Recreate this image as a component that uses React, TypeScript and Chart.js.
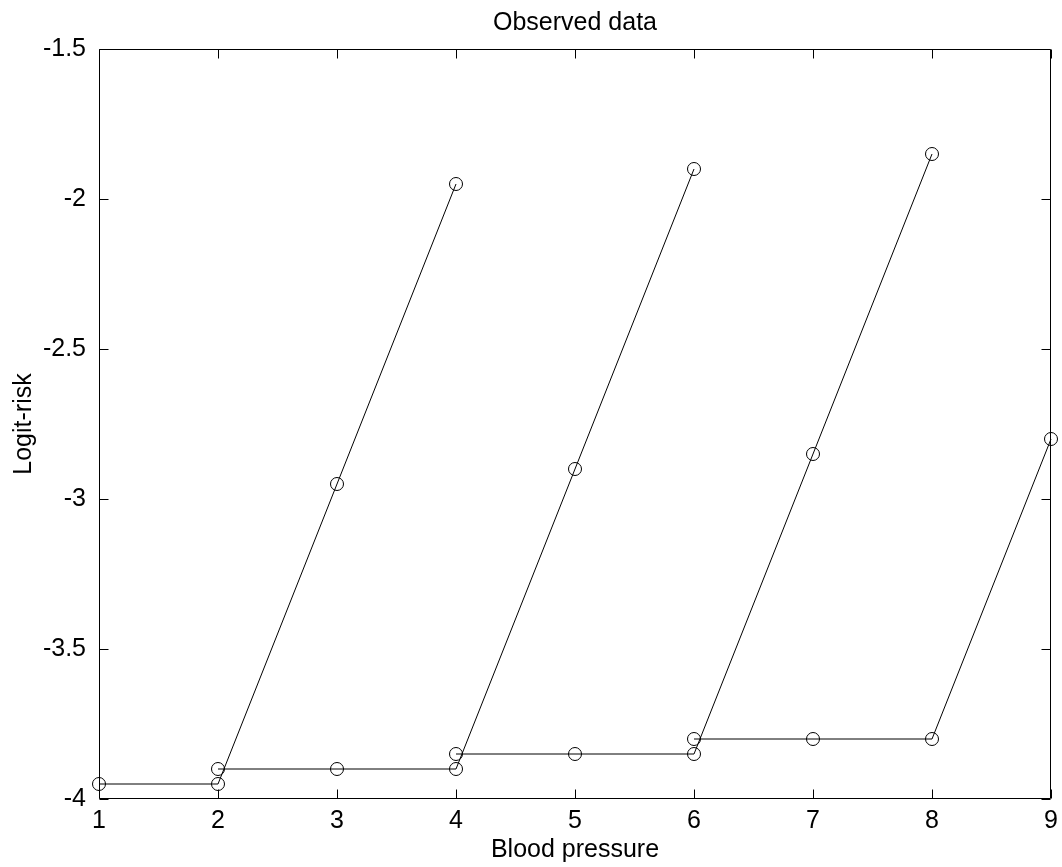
import { useEffect, useRef } from "react";
import { Chart, registerables } from "chart.js";

Chart.register(...registerables);

const titleText = "Observed data";
const xLabel = "Blood pressure";
const yLabel = "Logit-risk";

const xTicks = [1, 2, 3, 4, 5, 6, 7, 8, 9];
const yTicks = [-4, -3.5, -3, -2.5, -2, -1.5];

const group1X = [1, 2, 3, 4];
const group1Y = [-3.95, -3.95, -2.95, -1.95];
const group2X = [2, 3, 4, 5, 6];
const group2Y = [-3.9, -3.9, -3.9, -2.9, -1.9];
const group3X = [4, 5, 6, 7, 8];
const group3Y = [-3.85, -3.85, -3.85, -2.85, -1.85];
const group4X = [6, 7, 8, 9];
const group4Y = [-3.8, -3.8, -3.8, -2.8];

const FONT = "'Liberation Sans', Arial, Helvetica, sans-serif";
const FS = 25;

const toPoints = (xs: number[], ys: number[]) => xs.map((x, i) => ({ x, y: ys[i] }));

const boxTicksPlugin = {
  id: "boxTicks",
  beforeDatasetsDraw(chart: any) {
    const { ctx, chartArea, scales } = chart;
    const { left, right, top, bottom } = chartArea;
    const L = Math.round(left) + 0.5;
    const R = Math.round(right) - 0.5;
    const T = Math.round(top) + 0.5;
    const B = Math.round(bottom) - 0.5;
    const len = 9;
    ctx.save();
    ctx.strokeStyle = "#000";
    ctx.lineWidth = 1;
    ctx.beginPath();
    ctx.rect(L, T, R - L, B - T);
    for (const v of xTicks) {
      const px = Math.round(scales.x.getPixelForValue(v)) + 0.5;
      ctx.moveTo(px, B);
      ctx.lineTo(px, B - len);
      ctx.moveTo(px, T);
      ctx.lineTo(px, T + len);
    }
    for (const v of yTicks) {
      const py = Math.round(scales.y.getPixelForValue(v)) + 0.5;
      ctx.moveTo(L, py);
      ctx.lineTo(L + len, py);
      ctx.moveTo(R, py);
      ctx.lineTo(R - len, py);
    }
    ctx.stroke();
    ctx.restore();
  },
};

export default function App() {
  const canvasRef = useRef<HTMLCanvasElement | null>(null);

  useEffect(() => {
    if (!canvasRef.current) return;
    const makeDs = (xs: number[], ys: number[]) => ({
      data: toPoints(xs, ys),
      showLine: true,
      borderColor: "#000",
      borderWidth: 1,
      pointRadius: 6.5,
      pointHoverRadius: 6.5,
      pointBorderWidth: 1,
      pointBorderColor: "#000",
      pointBackgroundColor: "rgba(0,0,0,0)",
      pointStyle: "circle",
      clip: false,
      tension: 0,
    });
    const font = { family: FONT, size: FS, lineHeight: 1.2 };
    const noPad = (scale: any) => {
      scale.paddingLeft = 0;
      scale.paddingRight = 0;
      scale.paddingTop = 0;
      scale.paddingBottom = 0;
    };
    const chart = new Chart(canvasRef.current, {
      type: "scatter",
      data: {
        datasets: [
          makeDs(group1X, group1Y),
          makeDs(group2X, group2Y),
          makeDs(group3X, group3Y),
          makeDs(group4X, group4Y),
        ],
      },
      options: {
        responsive: false,
        animation: false,
        layout: { padding: { left: 0, right: 11, top: 0, bottom: 0 } },
        plugins: {
          legend: { display: false },
          tooltip: { enabled: false },
          title: { display: false },
        },
        scales: {
          x: {
            type: "linear",
            min: 1,
            max: 9,
            afterBuildTicks: (scale: any) => {
              scale.ticks = xTicks.map((v) => ({ value: v }));
            },
            afterFit: (scale: any) => {
              scale.height = 68;
              noPad(scale);
            },
            grid: { display: false, drawTicks: false },
            border: { display: false },
            ticks: {
              color: "#000",
              padding: 7,
              maxRotation: 0,
              font,
              callback: (v: any) => String(v),
            },
            title: {
              display: true,
              text: xLabel,
              color: "#000",
              font,
              padding: { top: 0, bottom: 2 },
            },
          },
          x2: {
            type: "linear",
            position: "top",
            min: 1,
            max: 9,
            afterFit: (scale: any) => {
              scale.height = 49;
              noPad(scale);
            },
            grid: { display: false, drawTicks: false },
            border: { display: false },
            ticks: { display: false },
            title: {
              display: true,
              text: titleText,
              color: "#000",
              font,
              padding: { top: 8.5, bottom: 0 },
            },
          },
          y: {
            type: "linear",
            min: -4,
            max: -1.5,
            afterBuildTicks: (scale: any) => {
              scale.ticks = yTicks.map((v) => ({ value: v }));
            },
            afterFit: (scale: any) => {
              scale.width = 99;
              noPad(scale);
            },
            grid: { display: false, drawTicks: false },
            border: { display: false },
            ticks: {
              color: "#000",
              padding: 13,
              font,
              callback: (v: any) => String(v),
            },
            title: {
              display: true,
              text: yLabel,
              color: "#000",
              font,
              padding: { top: 9, bottom: 0 },
            },
          },
        },
      },
      plugins: [boxTicksPlugin],
    } as any);
    return () => chart.destroy();
  }, []);

  return (
    <div style={{ position: "fixed", left: 0, top: 0, width: 1062, height: 867, background: "#fff" }}>
      <canvas ref={canvasRef} width={1062} height={867} style={{ display: "block" }} />
    </div>
  );
}
